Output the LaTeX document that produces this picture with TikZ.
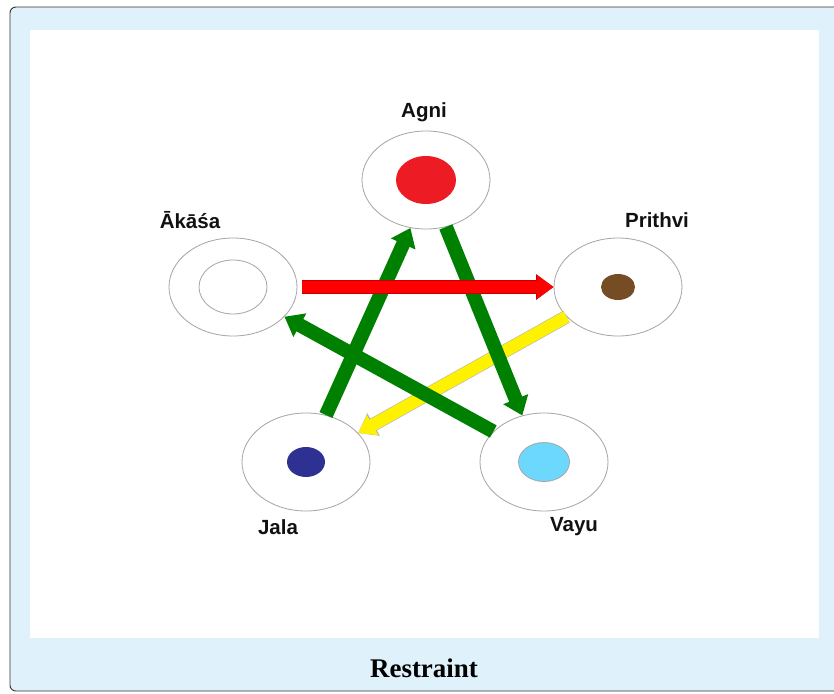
\documentclass[tikz,border=0pt]{standalone}
\usepackage{fontspec}
\setmainfont{Liberation Serif}
\newfontfamily\labelfont{Liberation Sans}
\usetikzlibrary{shapes.geometric,arrows.meta}
\definecolor{framebg}{HTML}{DFF1FB}
\definecolor{ringgray}{HTML}{A6A6A6}
\definecolor{restraingreen}{HTML}{008000}
\definecolor{firered}{HTML}{ED1C24}
\definecolor{earthbrown}{HTML}{754C24}
\definecolor{waterblue}{HTML}{2E3192}
\definecolor{airblue}{HTML}{6DD8FD}
\definecolor{tagblack}{HTML}{111111}

\tikzset{
  element/.style={ellipse, draw=ringgray, line width=0.7pt, fill=white,
    minimum width=3.84cm, minimum height=2.94cm, inner sep=0pt},
  tag/.style={text=tagblack, font=\labelfont\bfseries\fontsize{17.5}{20}\selectfont},
  flow/.style={line width=10.5pt, -{Triangle[length=14pt,width=19pt]}},
  greenflow/.style={restraingreen, line width=12pt, -{Triangle[length=15pt,width=22pt]}}
}

\begin{document}
\begin{tikzpicture}[x=0.03cm, y=-0.03cm]
\clip (0,0) rectangle (834,693);
\draw[draw=black!80, line width=0.8pt, fill=framebg, rounded corners=5pt] (10,7) rectangle (850,691);
\fill[white] (30,30) rectangle (819,638);

\node[element] (agni) at (426,180) {};
\node[element] (akasa) at (233,287) {};
\node[element] (prithvi) at (618,287) {};
\node[element] (jala) at (306,462) {};
\node[element] (vayu) at (544,462) {};

\fill[firered] (agni.center) ellipse [x radius=30, y radius=24];
\draw[ringgray, line width=0.7pt] (akasa.center) ellipse [x radius=34, y radius=27];
\fill[earthbrown] (prithvi.center) ellipse [x radius=17, y radius=13];
\fill[waterblue] (jala.center) ellipse [x radius=19, y radius=15];
\draw[ringgray, line width=0.7pt, fill=airblue] (vayu.center) ellipse [x radius=25.5, y radius=19.5];

\draw[flow, yellow, preaction={draw=gray!60, line width=11.5pt, -{Triangle[length=15pt,width=21pt]}}] (prithvi.210) -- (jala.29);
\draw[greenflow] (jala.67) -- (agni.252);
\draw[greenflow] (agni.293) -- (vayu.115);
\draw[greenflow] (vayu.149) -- (akasa.330);
\draw[flow, red, shorten <=3.5pt, preaction={draw=red!75!black, line width=11.5pt, -{Triangle[length=15pt,width=21pt]}}] (akasa.east) -- (prithvi.west);

\node[tag] (agnitag) at (424,112) {Agni};
\node[tag] (akasatag) at (190,220) {Ākāśa};
\node[tag] (prithvitag) at (657,220) {Prithvi};
\node[tag] (jalatag) at (278,527) {Jala};
\node[tag] (vayutag) at (574,527) {Vayu};
\node[text=black, font=\bfseries\fontsize{23}{26}\selectfont] (caption) at (424,668) {Restraint};
\end{tikzpicture}
\end{document}
